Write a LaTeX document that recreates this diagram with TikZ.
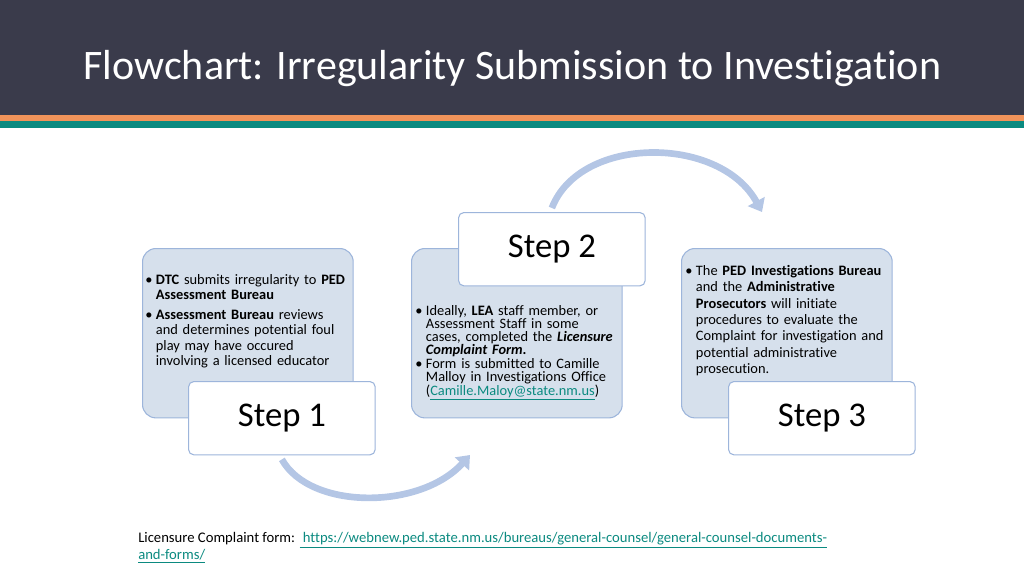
\documentclass[tikz,border=0pt]{standalone}
\usepackage{fontspec}
\setmainfont{Carlito}[Ligatures={NoCommon,NoContextual}]
\usetikzlibrary{arrows.meta}
\definecolor{hdr}{HTML}{3A3B4B}
\definecolor{orng}{HTML}{F0935A}
\definecolor{teal}{HTML}{0B8A80}
\definecolor{boxfill}{HTML}{D6E0EC}
\definecolor{boxline}{HTML}{9DB5DB}
\definecolor{arc}{HTML}{B4C6E5}
\newcommand{\itm}[1]{\hangindent=8pt\hangafter=1\noindent\makebox[8pt][l]{\textbullet}#1\par}
\tikzset{
  bigbox/.style={draw=boxline, fill=boxfill, rounded corners=10pt, minimum width=158pt, minimum height=127pt, anchor=north west, line width=0.8pt},
  labelbox/.style={draw=boxline, fill=white, rounded corners=4pt, minimum width=140pt, minimum height=55pt, anchor=north west, font=\fontsize{26}{30}\selectfont, line width=0.8pt},
  bodytext/.style={text width=155pt, anchor=north west, font=\fontsize{10.8}{11.6}\selectfont, inner sep=0pt}
}
\begin{document}
\begin{tikzpicture}[x=0.75pt,y=-0.75pt]
  \useasboundingbox (0,0) rectangle (1024,576);
  % header bands
  \fill[hdr] (0,0) rectangle (1024,115);
  \fill[orng] (0,115) rectangle (1024,121);
  \fill[teal] (0,121) rectangle (1024,128);
  \node[anchor=west, text=white, font=\fontsize{31.5}{34}\selectfont] (title) at (79,69) {Flowchart: Irregularity Submission to Investigation};

  % boxes
  \node[bigbox] (b1) at (142,248) {};
  \node[bigbox] (b2) at (411,248) {};
  \node[bigbox] (b3) at (681,248) {};

  \node[bodytext] (t1) at (145,274) {\raggedright
    \itm{\textbf{DTC} submits irregularity to \textbf{PED}\newline\textbf{Assessment Bureau}}
    \vspace{3pt}
    \itm{\textbf{Assessment Bureau} reviews\newline and determines potential foul\newline play may have occured\newline involving a licensed educator}};
  \node[bodytext, font=\fontsize{10.8}{9.8}\selectfont] (t2) at (415,305) {\raggedright
    \itm{Ideally, \textbf{LEA} staff member, or\newline Assessment Staff in some\newline cases, completed the \textbf{\textit{Licensure}}\newline\textbf{\textit{Complaint Form.}}}
    \vspace{1pt}
    \itm{Form is submitted to Camille\newline Malloy in Investigations Office\newline(\textcolor{teal}{\underline{Camille.Maloy@state.nm.us}})}};
  \node[bodytext, font=\fontsize{10.8}{12.3}\selectfont] (t3) at (685,265) {\raggedright
    \itm{The \textbf{PED Investigations Bureau}\newline and the \textbf{Administrative}\newline\textbf{Prosecutors} will initiate\newline procedures to evaluate the\newline Complaint for investigation and\newline potential administrative\newline prosecution.}};

  \node[labelbox] (s1) at (188,381) {Step 1};
  \node[labelbox] (s2) at (458,212) {Step 2};
  \node[labelbox] (s3) at (728,381) {Step 3};

  % curved arrows
  \draw[arc, line width=5pt, -{Triangle[length=9pt,width=14pt]}] (s1.south) ++(0,4) .. controls (310,510) and (420,510) .. (470,455);
  \draw[arc, line width=5pt, -{Triangle[length=9pt,width=14pt]}] (s2.north) ++(0,-4) .. controls (580,135) and (720,135) .. (762,212);

  % footer
  \node[anchor=north west, align=left, font=\fontsize{11}{13}\selectfont, inner sep=0pt] (foot) at (138,532) {Licensure Complaint form: \textcolor{teal}{\underline{ https://webnew.ped.state.nm.us/bureaus/general-counsel/general-counsel-documents-}}\\\textcolor{teal}{\underline{and-forms/}}};
\end{tikzpicture}
\end{document}
